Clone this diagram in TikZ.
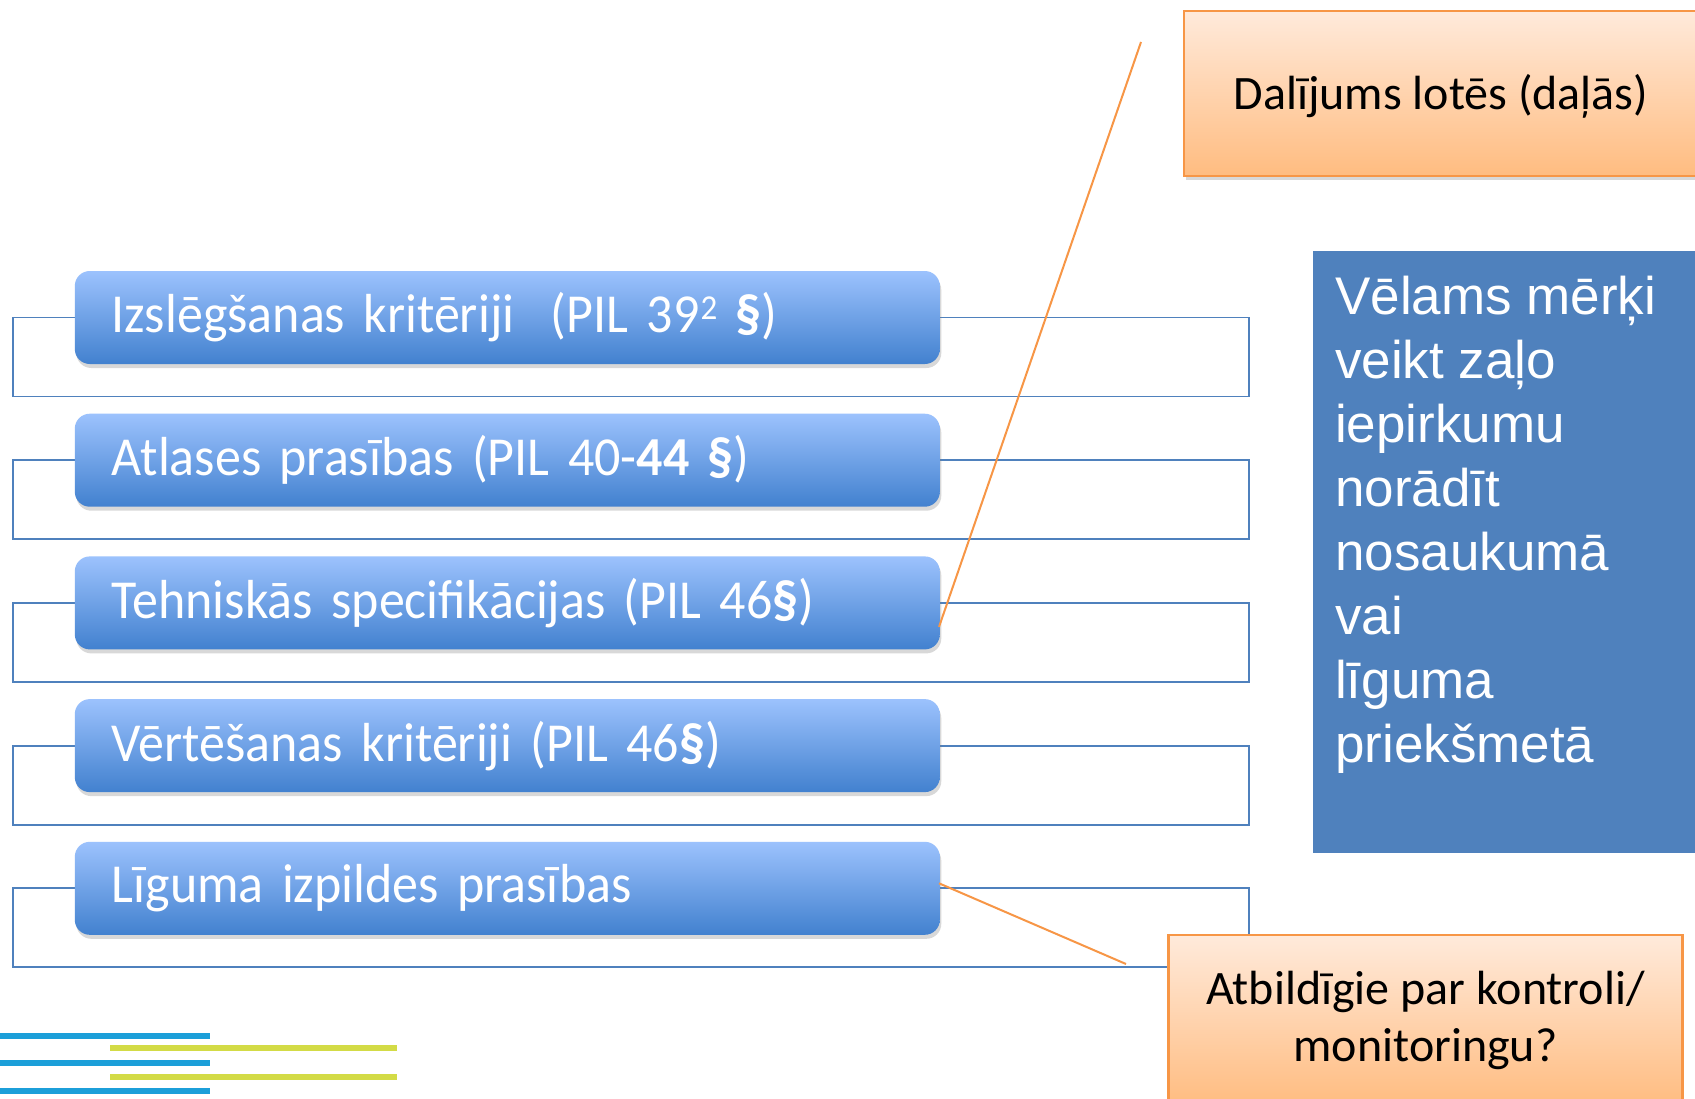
\documentclass[tikz,border=0pt]{standalone}
\usepackage{fontspec}
\setmainfont{Carlito}
\newfontfamily\boxfont[FakeStretch=0.945]{Carlito}
\newfontfamily\arialfont{Liberation Sans}
\usetikzlibrary{shadows}
\definecolor{frameblue}{HTML}{4F81BD}
\definecolor{boxtop}{HTML}{9CC2FD}
\definecolor{boxbot}{HTML}{4281CF}
\definecolor{orline}{HTML}{F79646}
\definecolor{ortop}{HTML}{FFEADB}
\definecolor{orbot}{HTML}{FFBC80}
\definecolor{stripeblue}{HTML}{1C9FD9}
\definecolor{stripeyellow}{HTML}{D3DB46}
\newcommand{\suptwo}{\kern1pt\raisebox{13pt}{\fontsize{35}{35}\selectfont 2}}
\tikzset{
  critbox/.style={rounded corners=15pt, top color=boxtop, bottom color=boxbot, draw=none,
    minimum width=865pt, minimum height=93pt, text width=791pt, inner xsep=37pt, inner ysep=0pt,
    align=left, anchor=west, text=white, font=\boxfont\fontsize{55}{66}\selectfont,
    drop shadow={shadow xshift=1.5pt, shadow yshift=-4pt, opacity=0.3}},
  frameline/.style={draw=frameblue, line width=1.8pt},
  orbox/.style={draw=orline, line width=2.5pt, top color=ortop, bottom color=orbot,
    minimum width=514pt, minimum height=165pt, align=center, text=black,
    font=\fontsize{48}{57}\selectfont,
    drop shadow={shadow xshift=1.5pt, shadow yshift=-4pt, opacity=0.3}},
  callout/.style={draw=orline, line width=2pt},
  stripeb/.style={draw=stripeblue, line width=5.5pt},
  stripey/.style={draw=stripeyellow, line width=5.5pt}
}
\begin{document}
\begin{tikzpicture}[x=1pt,y=-1pt]
\useasboundingbox (0,0) rectangle (1695,1098);
\clip (0,0) rectangle (1695,1098);
\fill[white] (0,0) rectangle (1695,1098);

% logo stripes
\draw[stripeb] (0,1036) -- (210,1036);
\draw[stripeb] (0,1063) -- (210,1063);
\draw[stripeb] (0,1091) -- (210,1091);
\draw[stripey] (110,1048) -- (397,1048);
\draw[stripey] (110,1077) -- (397,1077);

% frames
\foreach \c in {317.5,460.2,602.9,745.6,888.3}{
  \draw[frameline] (13,\c) rectangle (1249,\c+79);
}

% criteria boxes
\node[critbox] (c1) at (74.6,317.5) {Izslēgšanas kritēriji\ \ (PIL 39\suptwo{} \textbf{§})};
\node[critbox] (c2) at (74.6,460.2) {Atlases prasības (PIL 40-\textbf{44 §})};
\node[critbox] (c3) at (74.6,602.9) {Tehniskās specifikācijas (PIL 46\textbf{§})};
\node[critbox] (c4) at (74.6,745.6) {Vērtēšanas kritēriji (PIL 46\textbf{§})};
\node[critbox] (c5) at (74.6,888.3) {Līguma izpildes prasības};

% callout boxes
\node[orbox, text height=38pt, text depth=6pt] (lots) at (1441,93.5) {Dalījums lotēs (daļās)};
\node[orbox, minimum height=171pt] (resp) at (1425.5,1020.5) {Atbildīgie par kontroli/\\monitoringu?};

% callout lines
\coordinate (e1) at (1141,42);
\coordinate (e2) at (1126,964);
\draw[callout] ([shift={(-1,24)}]c3.east) -- (e1);
\draw[callout] ([shift={(-1,-5)}]c5.east) -- (e2);

% goal box
\node[fill=frameblue, anchor=north west, minimum width=390pt, minimum height=602pt, inner sep=0pt] (goal) at (1313,251) {};
\node[anchor=north west, inner sep=0pt, align=left, text=white,
  font=\arialfont\fontsize{53}{64}\selectfont] (goaltext) at (1335,275.5)
  {Vēlams mērķi\\veikt zaļo\\iepirkumu\\norādīt\\nosaukumā\\vai\\līguma\\priekšmetā};
\end{tikzpicture}
\end{document}
